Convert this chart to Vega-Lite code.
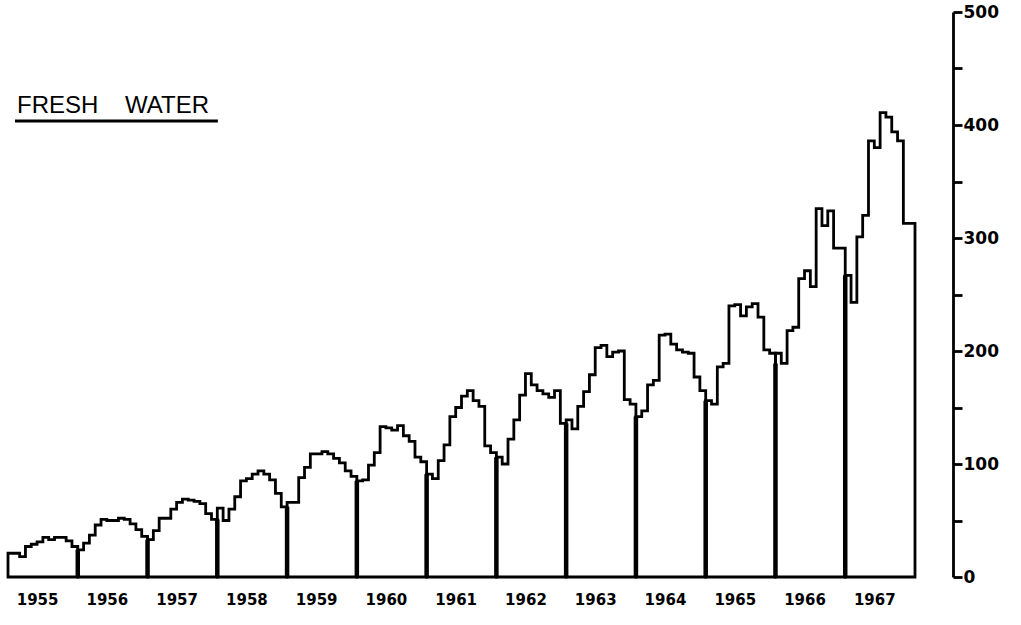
{
  "$schema": "https://vega.github.io/schema/vega-lite/v6.json",
  "width": 907,
  "height": 565,
  "autosize": {"type": "none"},
  "padding": {"left": 8, "top": 12, "right": 106, "bottom": 48},
  "background": "white",
  "config": {"view": {"stroke": null}},
  "datasets": {
    "series": [
      {"year":1955,"m":0,"v":21},{"year":1955,"m":1,"v":21},{"year":1955,"m":2,"v":18},{"year":1955,"m":3,"v":27},{"year":1955,"m":4,"v":29},{"year":1955,"m":5,"v":31},{"year":1955,"m":6,"v":35},{"year":1955,"m":7,"v":33},{"year":1955,"m":8,"v":35},{"year":1955,"m":9,"v":35},{"year":1955,"m":10,"v":32},{"year":1955,"m":11,"v":27},{"year":1955,"m":12,"v":27},
      {"year":1956,"m":12,"v":24},{"year":1956,"m":13,"v":30},{"year":1956,"m":14,"v":37},{"year":1956,"m":15,"v":46},{"year":1956,"m":16,"v":51},{"year":1956,"m":17,"v":50},{"year":1956,"m":18,"v":50},{"year":1956,"m":19,"v":52},{"year":1956,"m":20,"v":51},{"year":1956,"m":21,"v":47},{"year":1956,"m":22,"v":42},{"year":1956,"m":23,"v":36},{"year":1956,"m":24,"v":36},
      {"year":1957,"m":24,"v":33},{"year":1957,"m":25,"v":41},{"year":1957,"m":26,"v":52},{"year":1957,"m":27,"v":52},{"year":1957,"m":28,"v":60},{"year":1957,"m":29,"v":66},{"year":1957,"m":30,"v":69},{"year":1957,"m":31,"v":68},{"year":1957,"m":32,"v":67},{"year":1957,"m":33,"v":65},{"year":1957,"m":34,"v":56},{"year":1957,"m":35,"v":51},{"year":1957,"m":36,"v":51},
      {"year":1958,"m":36,"v":61},{"year":1958,"m":37,"v":50},{"year":1958,"m":38,"v":60},{"year":1958,"m":39,"v":71},{"year":1958,"m":40,"v":85},{"year":1958,"m":41,"v":87},{"year":1958,"m":42,"v":91},{"year":1958,"m":43,"v":94},{"year":1958,"m":44,"v":91},{"year":1958,"m":45,"v":86},{"year":1958,"m":46,"v":74},{"year":1958,"m":47,"v":62},{"year":1958,"m":48,"v":62},
      {"year":1959,"m":48,"v":66},{"year":1959,"m":49,"v":66},{"year":1959,"m":50,"v":88},{"year":1959,"m":51,"v":97},{"year":1959,"m":52,"v":109},{"year":1959,"m":53,"v":109},{"year":1959,"m":54,"v":111},{"year":1959,"m":55,"v":109},{"year":1959,"m":56,"v":105},{"year":1959,"m":57,"v":101},{"year":1959,"m":58,"v":94},{"year":1959,"m":59,"v":89},{"year":1959,"m":60,"v":89},
      {"year":1960,"m":60,"v":85},{"year":1960,"m":61,"v":86},{"year":1960,"m":62,"v":99},{"year":1960,"m":63,"v":110},{"year":1960,"m":64,"v":133},{"year":1960,"m":65,"v":132},{"year":1960,"m":66,"v":130},{"year":1960,"m":67,"v":134},{"year":1960,"m":68,"v":125},{"year":1960,"m":69,"v":120},{"year":1960,"m":70,"v":106},{"year":1960,"m":71,"v":102},{"year":1960,"m":72,"v":102},
      {"year":1961,"m":72,"v":91},{"year":1961,"m":73,"v":87},{"year":1961,"m":74,"v":103},{"year":1961,"m":75,"v":117},{"year":1961,"m":76,"v":142},{"year":1961,"m":77,"v":150},{"year":1961,"m":78,"v":160},{"year":1961,"m":79,"v":165},{"year":1961,"m":80,"v":156},{"year":1961,"m":81,"v":151},{"year":1961,"m":82,"v":116},{"year":1961,"m":83,"v":110},{"year":1961,"m":84,"v":110},
      {"year":1962,"m":84,"v":106},{"year":1962,"m":85,"v":100},{"year":1962,"m":86,"v":122},{"year":1962,"m":87,"v":139},{"year":1962,"m":88,"v":161},{"year":1962,"m":89,"v":180},{"year":1962,"m":90,"v":170},{"year":1962,"m":91,"v":165},{"year":1962,"m":92,"v":162},{"year":1962,"m":93,"v":159},{"year":1962,"m":94,"v":165},{"year":1962,"m":95,"v":136},{"year":1962,"m":96,"v":136},
      {"year":1963,"m":96,"v":139},{"year":1963,"m":97,"v":131},{"year":1963,"m":98,"v":151},{"year":1963,"m":99,"v":164},{"year":1963,"m":100,"v":179},{"year":1963,"m":101,"v":203},{"year":1963,"m":102,"v":205},{"year":1963,"m":103,"v":195},{"year":1963,"m":104,"v":199},{"year":1963,"m":105,"v":200},{"year":1963,"m":106,"v":157},{"year":1963,"m":107,"v":153},{"year":1963,"m":108,"v":153},
      {"year":1964,"m":108,"v":142},{"year":1964,"m":109,"v":147},{"year":1964,"m":110,"v":170},{"year":1964,"m":111,"v":174},{"year":1964,"m":112,"v":214},{"year":1964,"m":113,"v":215},{"year":1964,"m":114,"v":206},{"year":1964,"m":115,"v":201},{"year":1964,"m":116,"v":199},{"year":1964,"m":117,"v":198},{"year":1964,"m":118,"v":177},{"year":1964,"m":119,"v":165},{"year":1964,"m":120,"v":165},
      {"year":1965,"m":120,"v":156},{"year":1965,"m":121,"v":153},{"year":1965,"m":122,"v":186},{"year":1965,"m":123,"v":189},{"year":1965,"m":124,"v":240},{"year":1965,"m":125,"v":241},{"year":1965,"m":126,"v":231},{"year":1965,"m":127,"v":239},{"year":1965,"m":128,"v":242},{"year":1965,"m":129,"v":230},{"year":1965,"m":130,"v":201},{"year":1965,"m":131,"v":198},{"year":1965,"m":132,"v":198},
      {"year":1966,"m":132,"v":198},{"year":1966,"m":133,"v":189},{"year":1966,"m":134,"v":218},{"year":1966,"m":135,"v":221},{"year":1966,"m":136,"v":264},{"year":1966,"m":137,"v":271},{"year":1966,"m":138,"v":257},{"year":1966,"m":139,"v":326},{"year":1966,"m":140,"v":311},{"year":1966,"m":141,"v":324},{"year":1966,"m":142,"v":291},{"year":1966,"m":143,"v":291},{"year":1966,"m":144,"v":291},
      {"year":1967,"m":144,"v":267},{"year":1967,"m":145,"v":243},{"year":1967,"m":146,"v":301},{"year":1967,"m":147,"v":320},{"year":1967,"m":148,"v":386},{"year":1967,"m":149,"v":380},{"year":1967,"m":150,"v":411},{"year":1967,"m":151,"v":407},{"year":1967,"m":152,"v":394},{"year":1967,"m":153,"v":386},{"year":1967,"m":154,"v":313},{"year":1967,"m":155,"v":313},{"year":1967,"m":156,"v":313}
    ],
    "separators": [
      {"m":12,"top":24},{"m":24,"top":33},{"m":36,"top":51},{"m":48,"top":62},{"m":60,"top":85},{"m":72,"top":91},
      {"m":84,"top":106},{"m":96,"top":136},{"m":108,"top":142},{"m":120,"top":156},{"m":132,"top":189},{"m":144,"top":267}
    ]
  },
  "layer": [
    {
      "data": {"name": "series"},
      "mark": {"type": "area", "interpolate": "step-after", "fill": "white", "fillOpacity": 0, "stroke": "black", "strokeWidth": 2.8, "strokeJoin": "miter"},
      "encoding": {
        "x": {"field": "m", "type": "quantitative", "scale": {"domain": [0, 156], "nice": false, "zero": false},
          "axis": {"values": [5,17,29,41,53,65,77,89,101,113,125,137,149], "labelExpr": "format(1955 + floor(datum.value / 12), 'd')", "domain": false, "ticks": false, "grid": false, "title": null, "labelFont": "DejaVu Sans", "labelFontWeight": "bold", "labelFontSize": 15, "labelColor": "black", "labelPadding": 15}},
        "y": {"field": "v", "type": "quantitative", "stack": null, "scale": {"domain": [0, 500], "nice": false},
          "axis": {"orient": "right", "offset": 38, "values": [0,50,100,150,200,250,300,350,400,450,500], "labelExpr": "datum.value % 100 == 0 ? datum.label : ''", "grid": false, "title": null, "domainColor": "black", "domainWidth": 2.8, "tickColor": "black", "tickWidth": 2.8, "tickSize": 9, "labelFont": "DejaVu Sans", "labelFontWeight": "bold", "labelFontSize": 17, "labelColor": "black", "labelPadding": 1, "labelBaseline": "middle"}},
        "detail": {"field": "year", "type": "nominal"}
      }
    },
    {
      "data": {"name": "separators"},
      "mark": {"type": "rule", "color": "black", "strokeWidth": 4.5},
      "encoding": {
        "x": {"field": "m", "type": "quantitative"},
        "y": {"field": "top", "type": "quantitative"},
        "y2": {"datum": 0}
      }
    },
    {
      "data": {"values": [{"label": "FRESH\u00a0\u00a0\u00a0\u00a0WATER"}]},
      "mark": {"type": "text", "font": "Liberation Sans", "fontSize": 24, "align": "left", "baseline": "alphabetic", "color": "black"},
      "encoding": {
        "text": {"field": "label", "type": "nominal"},
        "x": {"datum": 1.55, "type": "quantitative"},
        "y": {"datum": 410.6, "type": "quantitative"}
      }
    },
    {
      "data": {"values": [{"label": "underline"}]},
      "mark": {"type": "rule", "color": "black", "strokeWidth": 3},
      "encoding": {
        "x": {"datum": 1.2, "type": "quantitative"},
        "x2": {"datum": 36.1},
        "y": {"datum": 403.5, "type": "quantitative"}
      }
    }
  ]
}
